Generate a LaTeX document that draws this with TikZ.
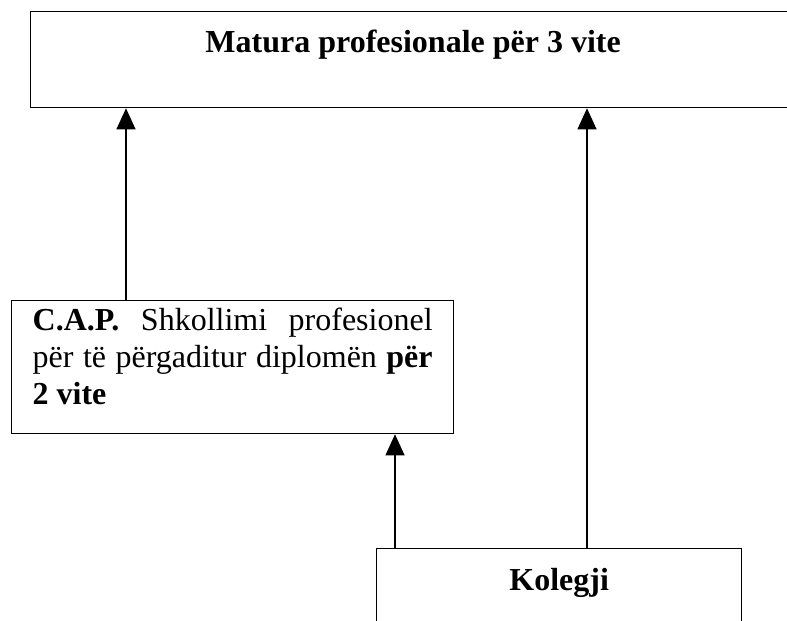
\documentclass[tikz,border=0pt]{standalone}
\usepackage{fontspec}
\setmainfont{Liberation Serif}
\usetikzlibrary{positioning}
\usetikzlibrary{arrows.meta}

\begin{document}
\begin{tikzpicture}[x=0.5pt,y=-0.5pt]
      \tikzstyle{box} = [draw, line width=0.65pt, rectangle, inner sep=0pt, anchor=north west, font=\fontsize{16}{18.5}\selectfont]
      \tikzstyle{arr} = [line width=0.55pt, -{Triangle[width=9.5pt,length=10.5pt]}]

      \clip (0,0) rectangle (787,621);

      \node[box, minimum width=382.5pt, text height=20.5pt, text depth=27.5pt, align=center] (matura) at (30,11) {\textbf{Matura profesionale për 3 vite}};
      \node[box, text width=200pt, inner xsep=10.5pt, text height=15pt, text depth=51.5pt, align=justify] (cap) at (11,300) {\textbf{C.A.P.} Shkollimi profesionel\linebreak për të përgaditur diplomën \textbf{për}\linebreak \textbf{2 vite}};
      \node[box, minimum width=182.5pt, text height=21pt, text depth=30pt, align=center] (kolegji) at (376,548) {\textbf{Kolegji}};

      % connections
      \coordinate (lx) at (126,0);
      \coordinate (mx) at (395,0);
      \coordinate (rx) at (587,0);

      \draw[arr] (cap.north -| lx) -- (matura.south -| lx);
      \draw[arr] (kolegji.north -| mx) -- (cap.south -| mx);
      \draw[arr] (kolegji.north -| rx) -- (matura.south -| rx);
    \end{tikzpicture}
\end{document}
